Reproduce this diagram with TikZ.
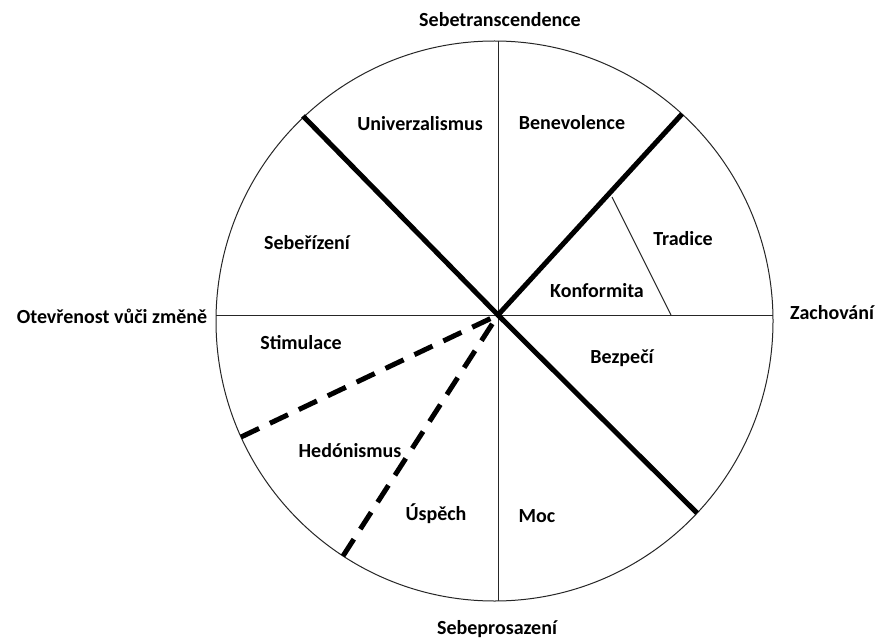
\documentclass[tikz,border=0pt]{standalone}
\usepackage{fontspec}
\setmainfont{Carlito}
\begin{document}
\begin{tikzpicture}[x=1pt,y=-1pt,
  lbl/.style={font=\fontsize{20}{22}\selectfont\bfseries, inner sep=0pt},
  thin/.style={line width=1pt, draw=black!85},
  thick/.style={line width=5pt, line cap=butt},
  dashline/.style={line width=5pt, dash pattern=on 20pt off 12pt}]
\useasboundingbox (0,0) rectangle (880,639);
\fill[white] (0,0) rectangle (880,639);
% geometry
\coordinate (C) at (498,315);
\coordinate (T) at (498,41);
\coordinate (B) at (498,601);
\coordinate (L) at (216,315);
\coordinate (R) at (773,315);
\coordinate (UL) at (303,116);
\coordinate (UR) at (682,114);
\coordinate (LR) at (697,513);
\coordinate (D1) at (241,437);
\coordinate (D2) at (343,556);
\coordinate (TA) at (612,197);
\coordinate (TB) at (671,315);
% circle
\draw[thin] (494.5,321) ellipse [x radius=278.5, y radius=280];
\draw[thin] (T) -- (B);
\draw[thin] (L) -- (R);
\draw[thin] (TA) -- (TB);
\draw[thick] (UL) -- (C) -- (LR);
\draw[thick] (C) -- (UR);
\draw[dashline] (D1) -- (C);
\draw[dashline] (D2) -- (C);
% labels
\node[lbl] (n1) at (500,20) {Sebetranscendence};
\node[lbl] (n2) at (497,629) {Sebeprosazení};
\node[lbl] (n3) at (112,316) {Otevřenost vůči změně};
\node[lbl] (n4) at (832,313) {Zachování};
\node[lbl] (n5) at (420,124) {Univerzalismus};
\node[lbl] (n6) at (572,123) {Benevolence};
\node[lbl] (n7) at (683,239) {Tradice};
\node[lbl] (n8) at (597,291) {Konformita};
\node[lbl] (n9) at (622,358) {Bezpečí};
\node[lbl] (n10) at (307,243) {Sebeřízení};
\node[lbl] (n11) at (301,343) {Stimulace};
\node[lbl] (n12) at (350,451) {Hedónismus};
\node[lbl] (n13) at (436,514) {Úspěch};
\node[lbl] (n14) at (537,516) {Moc};
\end{tikzpicture}
\end{document}
